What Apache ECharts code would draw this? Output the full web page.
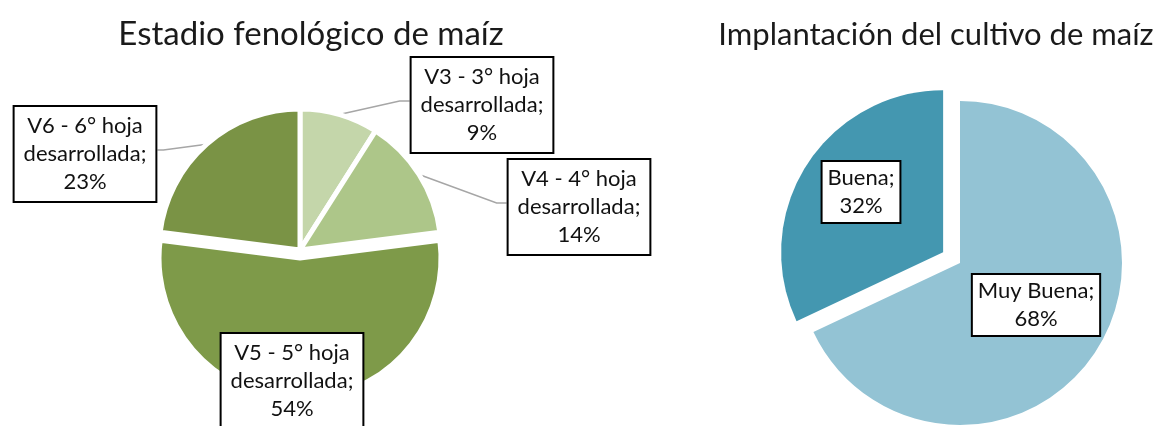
<!DOCTYPE html>
<html>
<head>
<meta charset="utf-8">
<script src="https://cdn.jsdelivr.net/npm/echarts@6/dist/echarts.min.js"></script>
<style>
	html, body { margin: 0; padding: 0; background: #fff; }
	#chart { width: 1163px; height: 426px; }
</style>
</head>
<body>
<div id="chart"></div>
<script>
	// estadio fenologico (porcentaje)
	var estadioNames = ['V3 - 3° hoja\ndesarrollada', 'V4 - 4° hoja\ndesarrollada', 'V5 - 5° hoja\ndesarrollada', 'V6 - 6° hoja\ndesarrollada'];
	var estadioValues = [9, 14, 54, 23];
	var estadioColors = ['#c4d6aa', '#adc689', '#7e9a49', '#7a9345'];

	// implantacion del cultivo
	var implantNames = ['Muy Buena', 'Buena'];
	var implantValues = [68, 32];
	var implantColors = ['#93c3d4', '#4497b0'];

	// centros de las cajas de etiqueta
	var estadioLabelPos = [[482, 105], [579, 207], [292, 381], [85, 154]];
	var implantLabelPos = [[1036, 305], [861, 192]];

	var myChart = echarts.init(document.getElementById('chart'));

	var boxLabel = {
		color: '#111',
		fontFamily: 'Lato',
		fontSize: 22,
		lineHeight: 28,
		backgroundColor: '#fff',
		borderColor: '#000',
		borderWidth: 2,
		align: 'center'
	};

	function moveLabel(pos, leftCx) {
		return function (params) {
			var p = pos[params.dataIndex];
			var out = { x: p[0], y: p[1], align: 'center', verticalAlign: 'middle' };
			var pts = params.labelLinePoints;
			if (pts && leftCx != null) {
				var w = params.labelRect.width;
				var toLeft = p[0] < leftCx;
				var edge = toLeft ? p[0] + w / 2 : p[0] - w / 2;
				out.labelLinePoints = [pts[0], [edge + (toLeft ? 6 : -10), p[1] - 4], [edge, p[1] - 4]];
			}
			return out;
		};
	}

	// centro corrido para la porcion separada (a lo largo de su angulo medio)
	function explodeCenter(c, values, idx, dist) {
		var total = 0, before = 0;
		for (var i = 0; i < values.length; i++) {
			total += values[i];
			if (i < idx) before += values[i];
		}
		var mid = (before + values[idx] / 2) / total * 2 * Math.PI;
		return [c[0] + Math.sin(mid) * dist, c[1] - Math.cos(mid) * dist];
	}

	// una serie de torta que solo pinta las porciones de "visible"
	function pieSeries(center, radius, names, values, colors, visible, border, label, labelLine, labelPos, lineCx) {
		return {
			type: 'pie',
			center: center,
			radius: radius,
			startAngle: 90,
			emphasis: { disabled: true },
			itemStyle: { borderColor: '#fff', borderWidth: border },
			label: label,
			labelLine: labelLine,
			labelLayout: moveLabel(labelPos, lineCx),
			data: names.map(function (n, i) {
				var on = visible.indexOf(i) >= 0;
				return {
					name: n,
					value: values[i],
					itemStyle: on ? { color: colors[i] } : { color: 'rgba(0,0,0,0)', borderWidth: 0 },
					label: { show: on },
					labelLine: { show: on && labelLine.show }
				};
			})
		};
	}

	var estadioCenter = [300, 250];
	var implantCenter = [960, 263];

	var outLabel = Object.assign({ formatter: '{b};\n{c}%', padding: [5, 9] }, boxLabel);
	var inLabel = Object.assign({ position: 'inside', formatter: '{b};\n{c}%', padding: [2, 5] }, boxLabel);
	var grayLine = { show: true, lineStyle: { color: '#a6a6a6', width: 1.5 } };

	myChart.setOption({
		animation: false,
		title: [{
			text: 'Estadio fenológico de maíz',
			left: 306,
			top: 13,
			textAlign: 'center',
			textStyle: { fontFamily: 'Lato', fontSize: 33, fontWeight: 'normal', color: '#1a1a1a' }
		}, {
			text: 'Implantación del cultivo de maíz',
			left: 931,
			top: 14,
			textAlign: 'center',
			textStyle: { fontFamily: 'Lato', fontSize: 31, fontWeight: 'normal', color: '#1a1a1a' }
		}],
		series: [
			pieSeries(estadioCenter, 141, estadioNames, estadioValues, estadioColors, [0, 1, 3], 5, outLabel, grayLine, estadioLabelPos, 300),
			pieSeries(explodeCenter(estadioCenter, estadioValues, 2, 8), 141, estadioNames, estadioValues, estadioColors, [2], 5, outLabel, { show: false }, estadioLabelPos, null),
			pieSeries(implantCenter, 162, implantNames, implantValues, implantColors, [0], 0, inLabel, { show: false }, implantLabelPos, null),
			pieSeries(explodeCenter(implantCenter, implantValues, 1, 20), 162, implantNames, implantValues, implantColors, [1], 0, inLabel, { show: false }, implantLabelPos, null)
		]
	});
</script>
</body>
</html>
